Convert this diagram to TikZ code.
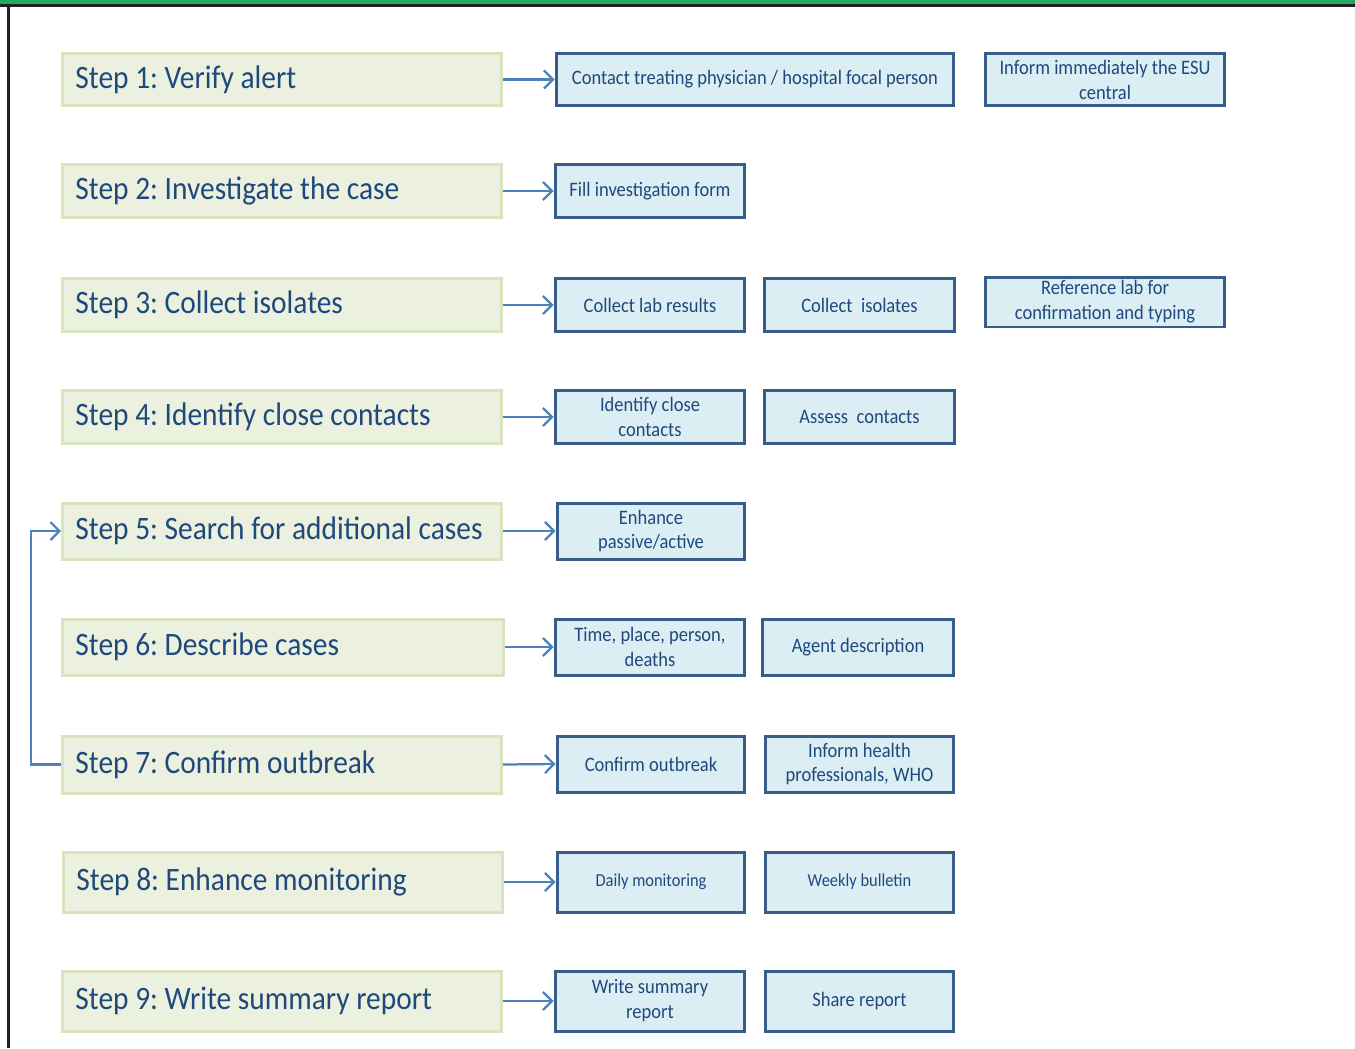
\documentclass[tikz,border=0pt]{standalone}
\usepackage{fontspec}
\setmainfont[FakeStretch=0.9]{Carlito}
\usetikzlibrary{arrows.meta, positioning}
\definecolor{barGreen}{RGB}{34, 170, 96}
\definecolor{frameDark}{RGB}{35, 31, 32}
\definecolor{stepFill}{RGB}{235, 241, 222}
\definecolor{stepLine}{RGB}{215, 228, 189}
\definecolor{taskFill}{RGB}{219, 238, 244}
\definecolor{taskLine}{RGB}{56, 93, 138}
\definecolor{textBlue}{RGB}{31, 73, 125}
\definecolor{linkBlue}{RGB}{79, 129, 189}

\begin{document}
\begin{tikzpicture}[
  x=0.02cm, y=-0.02cm,
  stepbox/.style={draw=stepLine, fill=stepFill, line width=0.06cm, text=textBlue, anchor=west,
    minimum height=1.06cm, text width=8.26cm, inner xsep=0.26cm, align=flush left,
    font=\fontsize{18.6}{22}\selectfont\frenchspacing},
  taskbox/.style={draw=taskLine, fill=taskFill, line width=0.06cm, text=textBlue,
    minimum width=3.8cm, minimum height=1.06cm, inner sep=0pt, align=center,
    font=\fontsize{11.7}{14.2}\selectfont},
  link/.style={draw=linkBlue, line width=0.045cm,
    -{Straight Barb[length=0.18cm, width=0.36cm, line width=0.045cm]}}
]
  \useasboundingbox (0,0) rectangle (1355,1048);

  % frame
  \fill[barGreen] (0,0) rectangle (1355,4);
  \fill[frameDark] (0,4) rectangle (1355,6.5);
  \fill[frameDark] (7,4) rectangle (9.5,1048);

  % steps
  \node[stepbox] (s1) at (61,79.5) {Step 1: Verify alert};
  \node[stepbox] (s2) at (61,191) {Step 2: Investigate the case};
  \node[stepbox] (s3) at (61,305) {Step 3: Collect isolates};
  \node[stepbox] (s4) at (61,417) {Step 4: Identify close contacts};
  \node[stepbox, minimum height=1.12cm] (s5) at (61,531) {Step 5: Search for additional cases};
  \node[stepbox, minimum height=1.12cm, text width=8.3cm] (s6) at (61,647) {Step 6: Describe cases};
  \node[stepbox, minimum height=1.14cm] (s7) at (61,764.5) {Step 7: Confirm outbreak};
  \node[stepbox, minimum height=1.2cm] (s8) at (62,882) {Step 8: Enhance monitoring};
  \node[stepbox, minimum height=1.2cm] (s9) at (61,1001) {Step 9: Write summary report};

  % actions
  \node[taskbox, minimum width=7.96cm] (t1a) at (755,79.5) {Contact treating physician / hospital focal person};
  \node[taskbox, minimum width=4.8cm] (t1b) at (1105,79.5) {Inform immediately the ESU\\central};

  \node[taskbox] (t2a) at (650,191) {Fill investigation form};

  \node[taskbox] (t3a) at (650,305) {Collect lab results};
  \node[taskbox] (t3b) at (859.5,305) {Collect~~isolates};
  \node[taskbox, minimum width=4.8cm, minimum height=1cm] (t3c) at (1105,302) {Reference lab for\\confirmation and typing};

  \node[taskbox] (t4a) at (650,417) {Identify close\\contacts};
  \node[taskbox] (t4b) at (859.5,417) {Assess~~contacts};

  \node[taskbox, minimum width=3.76cm, minimum height=1.12cm] (t5a) at (651,531) {Enhance\\passive/active};

  \node[taskbox, minimum height=1.12cm] (t6a) at (650,647) {Time, place, person,\\deaths};
  \node[taskbox, minimum width=3.84cm, minimum height=1.12cm] (t6b) at (858,647) {Agent description};

  \node[taskbox, minimum width=3.76cm, minimum height=1.12cm] (t7a) at (651,764) {Confirm outbreak};
  \node[taskbox, minimum width=3.78cm, minimum height=1.12cm] (t7b) at (859.5,764) {Inform health\\professionals, WHO};

  \node[taskbox, minimum width=3.76cm, minimum height=1.2cm, font=\fontsize{10.4}{13}\selectfont] (t8a) at (651,882) {Daily monitoring};
  \node[taskbox, minimum width=3.78cm, minimum height=1.2cm, font=\fontsize{10.4}{13}\selectfont] (t8b) at (859.5,882) {Weekly bulletin};

  \node[taskbox, minimum height=1.2cm] (t9a) at (650,1001) {Write summary\\report};
  \node[taskbox, minimum width=3.78cm, minimum height=1.2cm] (t9b) at (859.5,1001) {Share report};

  % arrows from each step
  \foreach \s/\t in {s1/t1a, s2/t2a, s3/t3a, s4/t4a, s5/t5a, s6/t6a, s7/t7a, s8/t8a, s9/t9a}
    \draw[link] (\s.east) -- (\t.west);

  % loop back from step 7 to step 5
  \draw[link] (s7.west) -- ++(-30,0) |- (s5.west);
\end{tikzpicture}
\end{document}
